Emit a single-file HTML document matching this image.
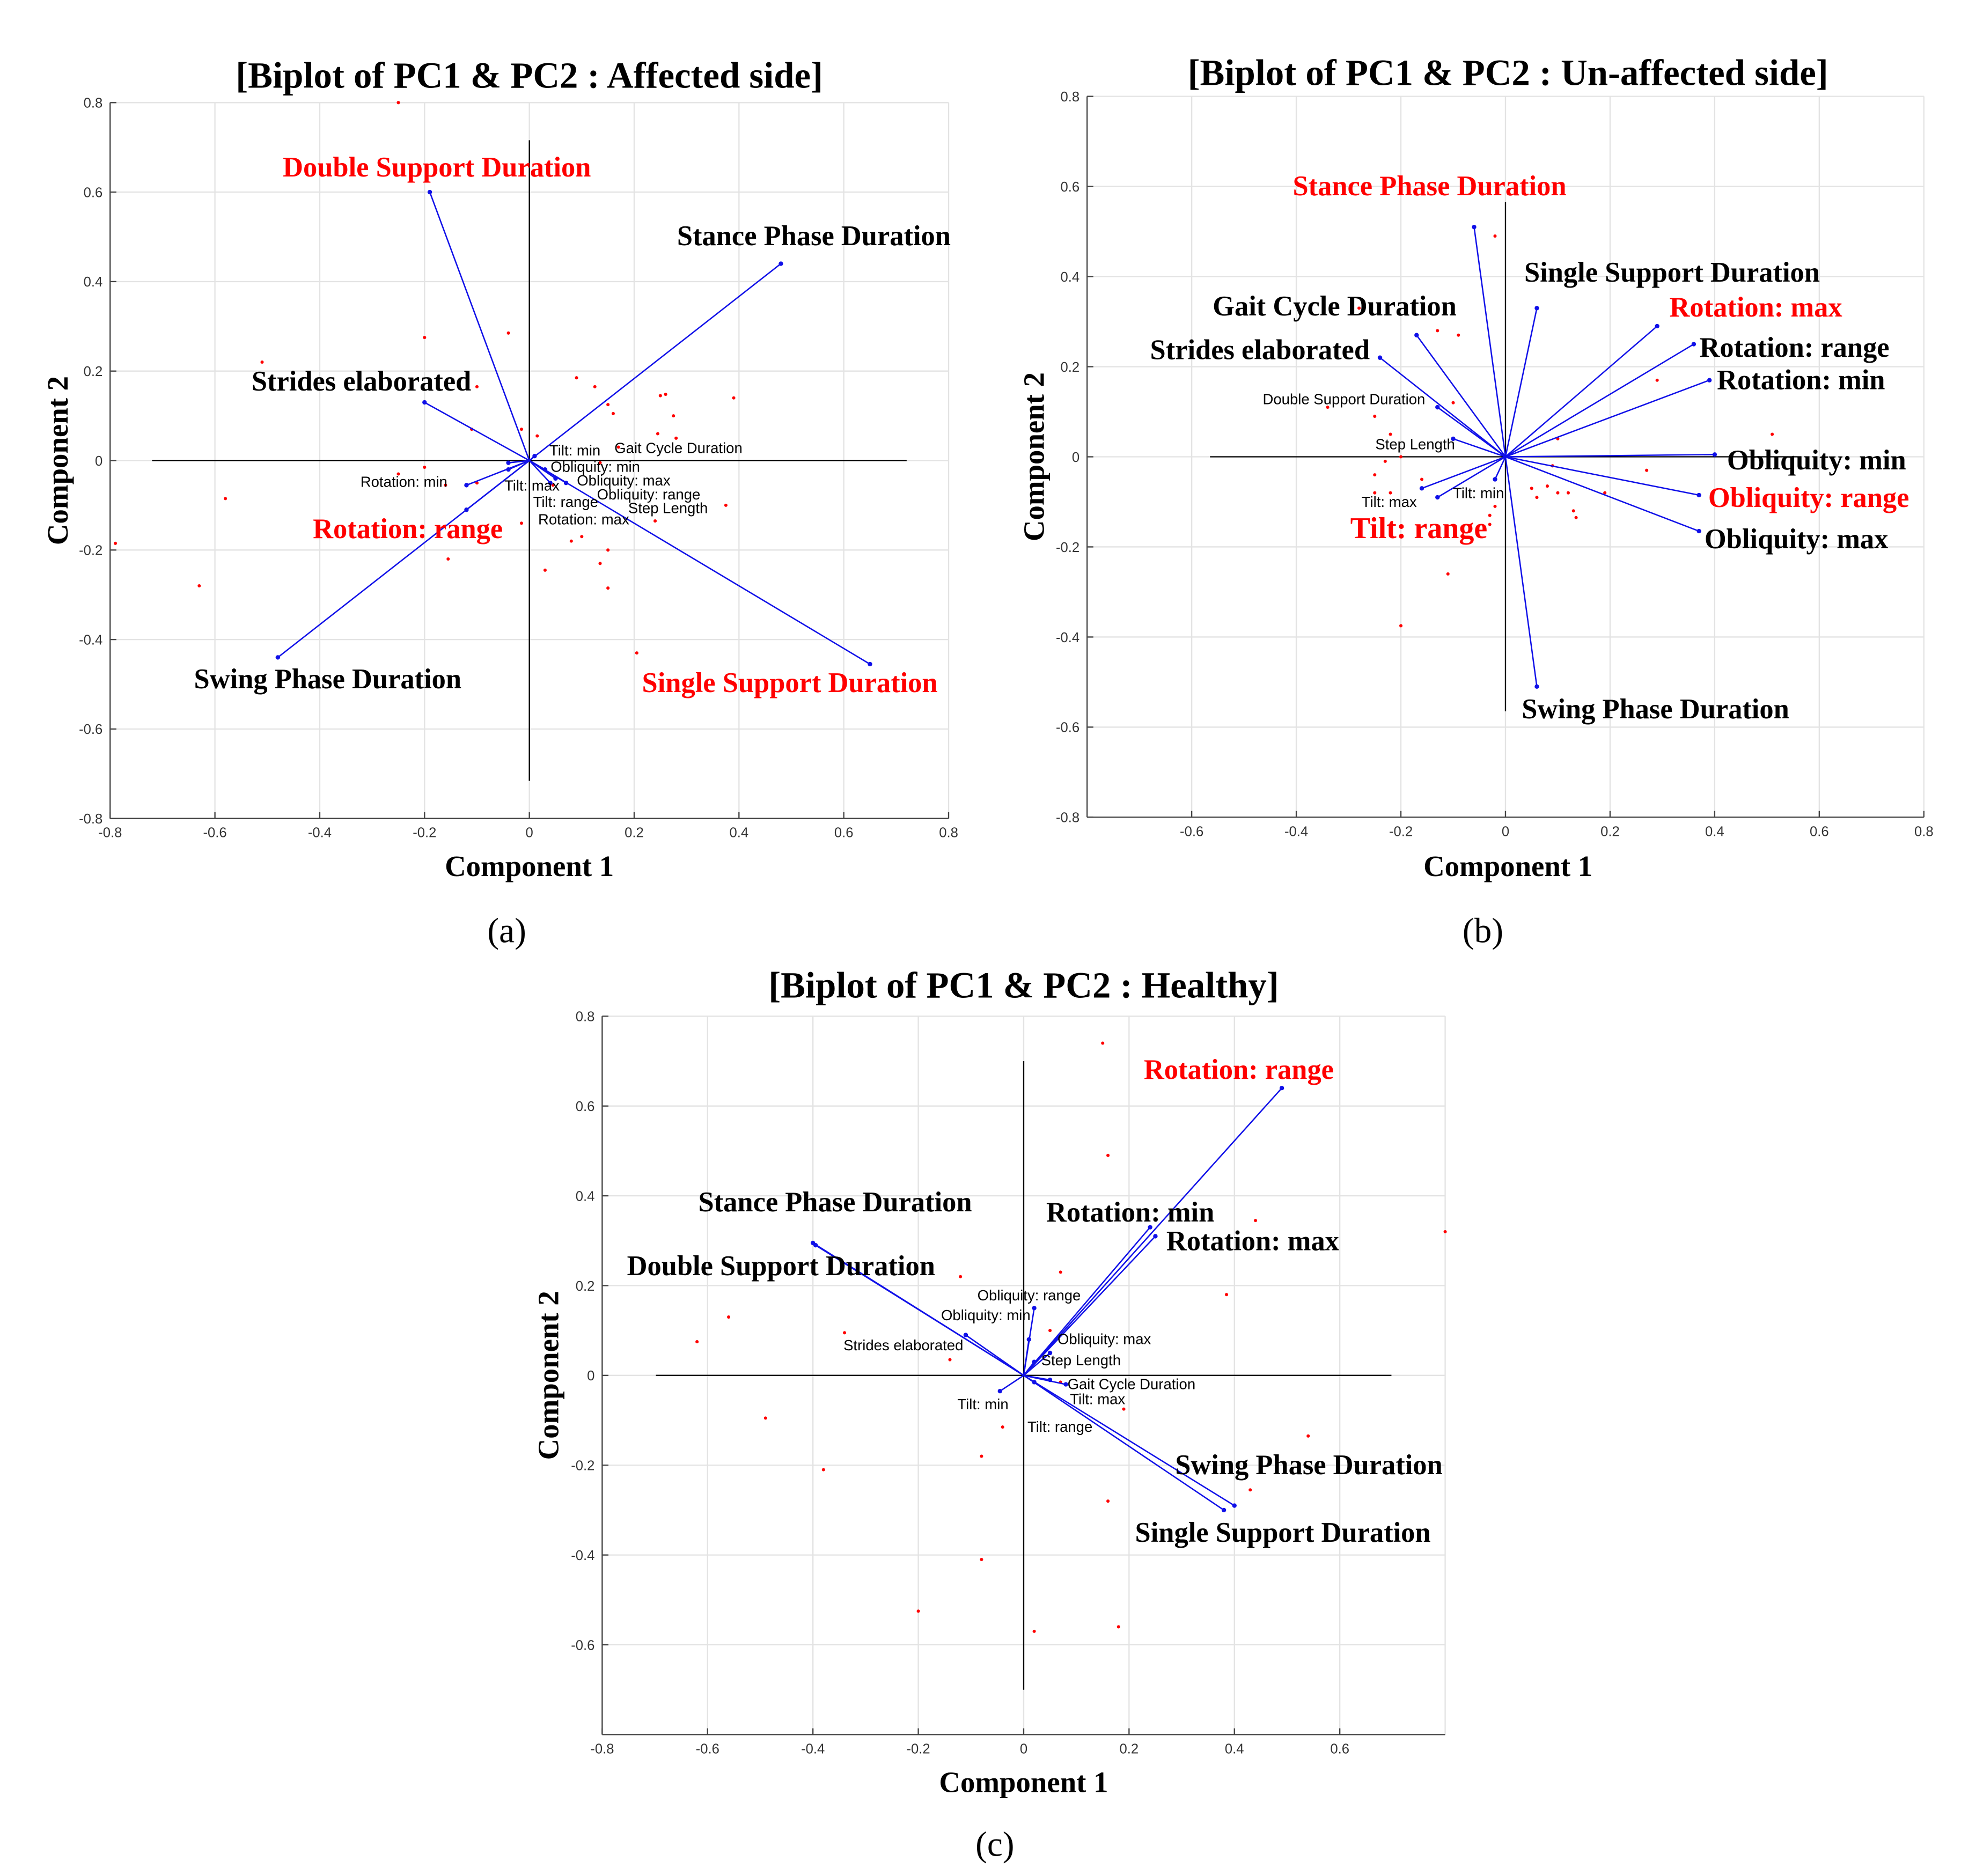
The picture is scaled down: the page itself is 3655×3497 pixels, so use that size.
<!DOCTYPE html>
<html><head><meta charset="utf-8"><style>
html,body{margin:0;padding:0;background:#fff;}
svg{display:block;}
.big{font-family:"Liberation Serif",serif;font-weight:bold;font-size:22.5px;}
.sm{font-family:"Liberation Sans",sans-serif;font-size:11.8px;fill:#000;}
.tick{font-family:"Liberation Sans",sans-serif;font-size:11px;fill:#333;}
.ttl{font-family:"Liberation Serif",serif;font-weight:bold;font-size:29.5px;}
.axt{font-family:"Liberation Serif",serif;font-weight:bold;font-size:23.5px;}
.sub{font-family:"Liberation Serif",serif;font-size:28px;}
.red{fill:#f00;}
</style></head><body>
<svg id="fig" width="3655" height="3497" viewBox="0 0 1567 1499" preserveAspectRatio="none" xmlns="http://www.w3.org/2000/svg">
<rect x="0" y="0" width="1567" height="1499" fill="#fff"/>
<g id="pa"></g>
<g id="pb"></g>
<g id="pc"></g>

<g>
<text class="ttl" x="423" y="70" text-anchor="middle">[Biplot of PC1 &amp; PC2 : Affected side]</text>
<text class="axt" x="423" y="700" text-anchor="middle">Component 1</text>
<text class="axt" transform="translate(54,368) rotate(-90)" text-anchor="middle">Component 2</text>
<text class="sub" x="405" y="753" text-anchor="middle">(a)</text>
<text class="big red" x="226" y="141">Double Support Duration</text>
<text class="big" x="541" y="196">Stance Phase Duration</text>
<text class="big" x="201" y="312">Strides elaborated</text>
<text class="big red" x="250" y="430">Rotation: range</text>
<text class="big" x="155" y="550">Swing Phase Duration</text>
<text class="big red" x="513" y="553">Single Support Duration</text>
<text class="sm" x="439" y="364">Tilt: min</text>
<text class="sm" x="491" y="362">Gait Cycle Duration</text>
<text class="sm" x="440" y="377">Obliquity: min</text>
<text class="sm" x="288" y="389">Rotation: min</text>
<text class="sm" x="403" y="392">Tilt: max</text>
<text class="sm" x="461" y="388">Obliquity: max</text>
<text class="sm" x="477" y="399">Obliquity: range</text>
<text class="sm" x="426" y="405">Tilt: range</text>
<text class="sm" x="502" y="410">Step Length</text>
<text class="sm" x="430" y="419">Rotation: max</text>
</g>

<g>
<text class="ttl" x="1205" y="68" text-anchor="middle">[Biplot of PC1 &amp; PC2 : Un-affected side]</text>
<text class="axt" x="1205" y="700" text-anchor="middle">Component 1</text>
<text class="axt" transform="translate(834,365) rotate(-90)" text-anchor="middle">Component 2</text>
<text class="sub" x="1185" y="753" text-anchor="middle">(b)</text>
<text class="big red" x="1033" y="156">Stance Phase Duration</text>
<text class="big" x="1218" y="225">Single Support Duration</text>
<text class="big" x="969" y="252">Gait Cycle Duration</text>
<text class="big red" x="1334" y="253">Rotation: max</text>
<text class="big" x="919" y="287">Strides elaborated</text>
<text class="big" x="1358" y="285">Rotation: range</text>
<text class="big" x="1372" y="311">Rotation: min</text>
<text class="big" x="1380" y="375">Obliquity: min</text>
<text class="big red" x="1365" y="405">Obliquity: range</text>
<text class="big" x="1362" y="438">Obliquity: max</text>
<text class="big red" x="1079" y="430" style="font-size:24px">Tilt: range</text>
<text class="big" x="1216" y="574">Swing Phase Duration</text>
<text class="sm" x="1009" y="323">Double Support Duration</text>
<text class="sm" x="1099" y="359">Step Length</text>
<text class="sm" x="1088" y="405">Tilt: max</text>
<text class="sm" x="1161" y="398">Tilt: min</text>
</g>

<g>
<text class="ttl" x="818" y="797" text-anchor="middle">[Biplot of PC1 &amp; PC2 : Healthy]</text>
<text class="axt" x="818" y="1432" text-anchor="middle">Component 1</text>
<text class="axt" transform="translate(446,1099) rotate(-90)" text-anchor="middle">Component 2</text>
<text class="sub" x="795" y="1483" text-anchor="middle">(c)</text>
<text class="big red" x="914" y="862">Rotation: range</text>
<text class="big" x="558" y="968">Stance Phase Duration</text>
<text class="big" x="836" y="976">Rotation: min</text>
<text class="big" x="932" y="999">Rotation: max</text>
<text class="big" x="501" y="1019">Double Support Duration</text>
<text class="big" x="939" y="1178">Swing Phase Duration</text>
<text class="big" x="907" y="1232">Single Support Duration</text>
<text class="sm" x="781" y="1039">Obliquity: range</text>
<text class="sm" x="752" y="1055">Obliquity: min</text>
<text class="sm" x="674" y="1079">Strides elaborated</text>
<text class="sm" x="845" y="1074">Obliquity: max</text>
<text class="sm" x="832" y="1091">Step Length</text>
<text class="sm" x="853" y="1110">Gait Cycle Duration</text>
<text class="sm" x="855" y="1122">Tilt: max</text>
<text class="sm" x="765" y="1126">Tilt: min</text>
<text class="sm" x="821" y="1144">Tilt: range</text>
</g>
</svg>
<script>
// Panel A data
const aVecX=[-0.19,0.48,-0.20,-0.48,0.65,-0.12,-0.12,-0.04,-0.04,0.05,0.07,0.01,0.03,0.04];
const aVecY=[0.60,0.44,0.13,-0.44,-0.455,-0.11,-0.055,-0.005,-0.02,-0.04,-0.05,0.01,-0.02,-0.05];
const aPtX=[-0.25,-0.2,-0.04,-0.51,-0.1,0.09,0.125,0.15,0.16,0.25,0.26,0.39,0.275,-0.11,-0.015,0.015,0.245,0.28,0.17,0.135,-0.25,-0.2,-0.1,-0.16,0.045,0.375,0.24,-0.58,-0.79,-0.015,0.08,0.1,0.15,0.135,-0.155,0.03,0.15,-0.63,0.205];
const aPtY=[0.8,0.275,0.285,0.22,0.165,0.185,0.165,0.125,0.105,0.145,0.148,0.14,0.10,0.07,0.07,0.055,0.06,0.05,0.03,-0.005,-0.03,-0.015,-0.05,-0.055,-0.055,-0.1,-0.135,-0.085,-0.185,-0.14,-0.18,-0.17,-0.2,-0.23,-0.22,-0.245,-0.285,-0.28,-0.43];
// Panel B data
const bVecX=[-0.06,0.06,-0.17,-0.24,0.29,0.36,0.39,0.40,0.37,0.37,0.06,-0.13,-0.16,-0.02,-0.13,-0.1];
const bVecY=[0.51,0.33,0.27,0.22,0.29,0.25,0.17,0.005,-0.085,-0.165,-0.51,-0.09,-0.07,-0.05,0.11,0.04];
const bPtX=[-0.02,-0.09,-0.13,-0.28,0.29,-0.34,-0.1,0.1,-0.25,-0.22,-0.2,-0.23,-0.25,-0.25,-0.22,-0.16,0.51,0.27,0.09,0.08,0.05,0.06,0.1,0.12,0.13,0.135,0.19,-0.02,-0.03,-0.03,-0.11,-0.2];
const bPtY=[0.49,0.27,0.28,0.33,0.17,0.11,0.12,0.04,0.09,0.05,0.0,-0.01,-0.04,-0.08,-0.08,-0.05,0.05,-0.03,-0.02,-0.065,-0.07,-0.09,-0.08,-0.08,-0.12,-0.135,-0.08,-0.11,-0.13,-0.15,-0.26,-0.375];
// Panel C data
const cVecX=[0.49,0.24,0.25,-0.40,-0.395,-0.11,0.02,0.01,0.05,0.02,0.05,0.08,-0.045,0.02,0.40,0.38];
const cVecY=[0.64,0.33,0.31,0.295,0.29,0.09,0.15,0.08,0.05,0.03,-0.01,-0.02,-0.035,-0.015,-0.29,-0.30];
const cPtX=[0.15,0.16,0.8,0.44,0.385,-0.12,0.07,-0.56,-0.62,-0.34,-0.14,0.05,0.07,0.19,-0.49,-0.04,-0.38,-0.08,0.54,0.43,0.16,-0.08,-0.2,0.02,0.18];
const cPtY=[0.74,0.49,0.32,0.345,0.18,0.22,0.23,0.13,0.075,0.095,0.035,0.1,-0.015,-0.075,-0.095,-0.115,-0.21,-0.18,-0.135,-0.255,-0.28,-0.41,-0.525,-0.57,-0.56];
const ticksA=[-0.8,-0.6,-0.4,-0.2,0,0.2,0.4,0.6,0.8];
const tickLabelsA=["-0.8","-0.6","-0.4","-0.2","0","0.2","0.4","0.6","0.8"];

const NS="http://www.w3.org/2000/svg";
function mk(p,tag,at){const e=document.createElementNS(NS,tag);for(const k in at)e.setAttribute(k,at[k]);p.appendChild(e);return e;}
function panel(g,cfg,vx,vy,px,py){
  const sx=v=>cfg.x0+v*cfg.ux, sy=v=>cfg.y0-v*cfg.uy;
  const L=sx(-0.8),R=sx(0.8),T=sy(0.8),B=sy(-0.8);
  ticksA.forEach((t,i)=>{
    const gx=mk(g,'line',{x1:sx(t),x2:sx(t),y1:T,y2:B,stroke:'#e3e3e3','stroke-width':1});
    
    
    const gy=mk(g,'line',{x1:L,x2:R,y1:sy(t),y2:sy(t),stroke:'#e3e3e3','stroke-width':1});
    
    
    if(cfg.xl.includes(t)){const tx=mk(g,'text',{x:sx(t),y:B+15,'text-anchor':'middle',class:'tick'});tx.textContent=tickLabelsA[i];
      
      
      mk(g,'line',{x1:sx(t),x2:sx(t),y1:B,y2:B-5,stroke:'#444'});}
    if(cfg.yl.includes(t)){const ty=mk(g,'text',{x:L-6,y:sy(t)+4,'text-anchor':'end',class:'tick'});ty.textContent=tickLabelsA[i];
      
      
      mk(g,'line',{x1:L,x2:L+5,y1:sy(t),y2:sy(t),stroke:'#444'});}
  });
  mk(g,'line',{x1:L,x2:L,y1:T,y2:B,stroke:'#444','stroke-width':1});
  mk(g,'line',{x1:L,x2:R,y1:B,y2:B,stroke:'#444','stroke-width':1});
  const ch=mk(g,'line',{x1:sx(-cfg.cx),x2:sx(cfg.cx),y1:sy(0),y2:sy(0),stroke:'#000','stroke-width':1});
  
  
  const cv=mk(g,'line',{x1:sx(0),x2:sx(0),y1:sy(cfg.cy),y2:sy(-cfg.cy),stroke:'#000','stroke-width':1});
  
  
  px.forEach((x,i)=>{const c=mk(g,'circle',{cx:sx(x),cy:sy(py[i]),r:1.3,fill:'#f00'});
    
    });
  vx.forEach((x,i)=>{const l=mk(g,'line',{x1:sx(0),y1:sy(0),x2:sx(x),y2:sy(vy[i]),stroke:'#1010e8','stroke-width':1.1});
    
    
    const d=mk(g,'circle',{cx:sx(x),cy:sy(vy[i]),r:1.8,fill:'#1010e8'});
    
    });
}
const all=ticksA;
panel(document.getElementById('pa'),{x0:423,ux:418.75,y0:368,uy:357.5,cx:0.72,cy:0.716,xl:all,yl:all},aVecX,aVecY,aPtX,aPtY);
panel(document.getElementById('pb'),{x0:1203,ux:417.9,y0:365,uy:360,cx:0.565,cy:0.565,xl:[-0.6,-0.4,-0.2,0,0.2,0.4,0.6,0.8],yl:all},bVecX,bVecY,bPtX,bPtY);
panel(document.getElementById('pc'),{x0:818,ux:421,y0:1099,uy:358.75,cx:0.698,cy:0.70,xl:[-0.8,-0.6,-0.4,-0.2,0,0.2,0.4,0.6],yl:[-0.6,-0.4,-0.2,0,0.2,0.4,0.6,0.8]},cVecX,cVecY,cPtX,cPtY);
</script>
</body></html>
